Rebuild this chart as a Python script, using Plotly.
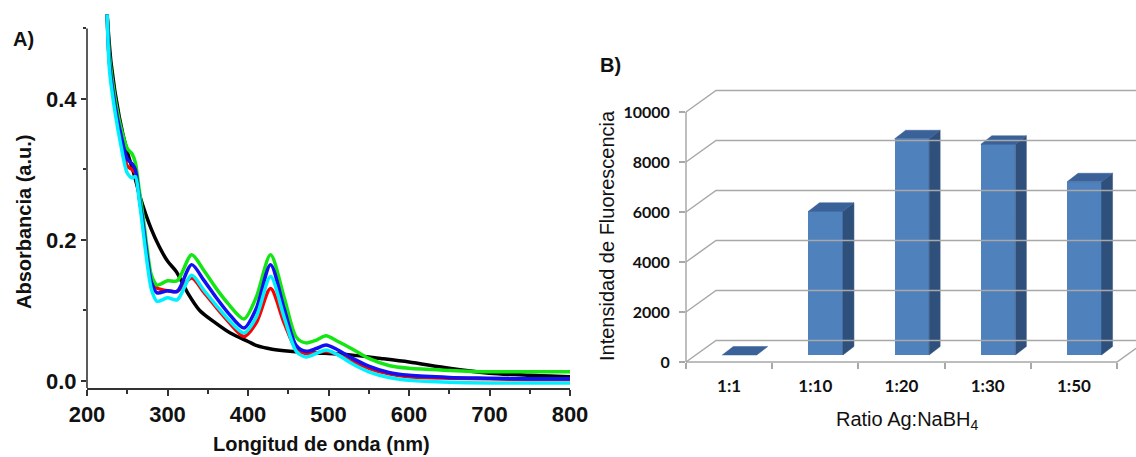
import plotly.graph_objects as go

# ---------------- Panel A data (UV-Vis spectra) ----------------
wl = [225, 228, 235, 242, 250, 256, 260, 265, 270, 275, 280, 287, 300, 312, 330, 345, 360, 375,
      395, 410, 428, 445, 460, 472, 485, 497, 510, 530, 550, 575, 600, 650, 700, 750, 800]
abs_green = [0.52, 0.46, 0.40, 0.36, 0.33, 0.322, 0.31, 0.27, 0.23, 0.185, 0.15, 0.136, 0.142, 0.142,
             0.179, 0.157, 0.132, 0.110, 0.088, 0.118, 0.179, 0.118, 0.062, 0.054, 0.058, 0.064, 0.057,
             0.045, 0.032, 0.022, 0.018, 0.015, 0.013, 0.013, 0.013]
abs_blue = [0.52, 0.45, 0.39, 0.35, 0.315, 0.308, 0.30, 0.26, 0.22, 0.175, 0.14, 0.125, 0.128, 0.127,
            0.165, 0.143, 0.119, 0.097, 0.075, 0.102, 0.165, 0.102, 0.050, 0.042, 0.046, 0.051, 0.045,
            0.032, 0.021, 0.012, 0.008, 0.005, 0.004, 0.003, 0.003]
abs_red = [0.52, 0.45, 0.39, 0.345, 0.305, 0.300, 0.295, 0.26, 0.22, 0.175, 0.14, 0.132, 0.128, 0.127,
           0.146, 0.126, 0.105, 0.085, 0.063, 0.082, 0.131, 0.082, 0.045, 0.039, 0.040, 0.042, 0.038,
           0.028, 0.018, 0.010, 0.006, 0.004, 0.003, 0.002, 0.002]
abs_cyan = [0.52, 0.44, 0.38, 0.335, 0.295, 0.288, 0.29, 0.255, 0.21, 0.165, 0.13, 0.113, 0.118, 0.115,
            0.150, 0.129, 0.108, 0.088, 0.068, 0.090, 0.148, 0.090, 0.042, 0.034, 0.039, 0.044, 0.038,
            0.024, 0.013, 0.005, 0.001, -0.002, -0.003, -0.003, -0.003]
wl_black = [225, 230, 240, 250, 258, 266, 280, 290, 300, 311, 325, 340, 360, 378, 400, 411, 430, 452,
            480, 527, 565, 600, 650, 700, 750, 800]
abs_black = [0.52, 0.45, 0.375, 0.325, 0.295, 0.261, 0.215, 0.19, 0.17, 0.155, 0.125, 0.100, 0.082,
             0.068, 0.056, 0.050, 0.045, 0.042, 0.040, 0.037, 0.032, 0.027, 0.018, 0.011, 0.008, 0.006]

# ---------------- Panel B data (fluorescence) ----------------
ratios = ["1:1", "1:10", "1:20", "1:30", "1:50"]
intensity = [0, 5750, 8650, 8430, 6930]
b_ticks = [0, 2000, 4000, 6000, 8000, 10000]
b_ticktext = ["0", "2000", "4000", "6000", "8000", "10000"]

W, H = 1136, 457
fig = go.Figure()

# ---------- Panel A ----------
XA_DOM = [87 / W, 570 / W]
YA_DOM = [1 - 388 / H, 1 - 14 / H]
XA_RANGE = [200, 800]
YA_RANGE = [-0.01, -0.01 + (388 - 14) / 705.0]

series = [
    (wl_black, abs_black, "#000000"),
    (wl, abs_red, "#ff0000"),
    (wl, abs_green, "#14e614"),
    (wl, abs_blue, "#1010f0"),
    (wl, abs_cyan, "#00f0ff"),
]
for xs, ys, col in series:
    fig.add_trace(go.Scatter(x=xs, y=ys, mode="lines", line=dict(color=col, width=3.5, shape="spline", smoothing=0.8),
                             xaxis="x", yaxis="y", showlegend=False, hoverinfo="skip"))

tickfontA = dict(family="Liberation Sans, Arial, sans-serif", size=22, color="#111111", weight="bold")

# ---------- Panel B ----------
XB_DOM = [686 / W, 1.0]
YB_DOM = [1 - 362 / H, 1 - 60 / H]
PX_PER_CAT = 86.2
XB_RANGE = [-0.5, -0.5 + (W - 686) / PX_PER_CAT]
UNITS_PER_PX = 40.0
YB_RANGE = [0, (362 - 60) * UNITS_PER_PX]

OFF = 10.4 / PX_PER_CAT      # bar depth shift (x)
BASE = 7 * UNITS_PER_PX      # bar depth shift (y)
BW = 34.5 / PX_PER_CAT       # bar width
SDX = 11 / PX_PER_CAT        # 3D side depth (x)
SDY = 8.5 * UNITS_PER_PX     # 3D side depth (y)
GDX = 30 / PX_PER_CAT        # wall depth (x)
GDY = 21.5 * UNITS_PER_PX    # wall depth (y)

idx = list(range(len(ratios)))
fig.add_trace(go.Bar(x=[i + OFF for i in idx], y=intensity, base=BASE, width=BW,
                     marker=dict(color="#4F81BD", line=dict(width=0)),
                     xaxis="x2", yaxis="y2", showlegend=False, hoverinfo="skip"))

side_x, side_y, top_x, top_y = [], [], [], []
for i, v in zip(idx, intensity):
    l = i + OFF - BW / 2
    r = i + OFF + BW / 2
    t = BASE + v
    if v > 0:
        side_x += [r, r + SDX, r + SDX, r, r, None]
        side_y += [BASE, BASE + SDY, t + SDY, t, BASE, None]
    top_x += [l, l + SDX, r + SDX, r, l, None]
    top_y += [t, t + SDY, t + SDY, t, t, None]

fig.add_trace(go.Scatter(x=side_x, y=side_y, fill="toself", fillcolor="#30507C", mode="lines",
                         line=dict(width=0.5, color="#30507C"), xaxis="x2", yaxis="y2",
                         showlegend=False, hoverinfo="skip"))
fig.add_trace(go.Scatter(x=top_x, y=top_y, fill="toself", fillcolor="#3B6298", mode="lines",
                         line=dict(width=0.5, color="#3B6298"), xaxis="x2", yaxis="y2",
                         showlegend=False, hoverinfo="skip"))


def bpx(x):
    return XB_DOM[0] + (x - XB_RANGE[0]) / (XB_RANGE[1] - XB_RANGE[0]) * (XB_DOM[1] - XB_DOM[0])


def bpy(y):
    return YB_DOM[0] + (y - YB_RANGE[0]) / (YB_RANGE[1] - YB_RANGE[0]) * (YB_DOM[1] - YB_DOM[0])


def apy(y):
    return YA_DOM[0] + (y - YA_RANGE[0]) / (YA_RANGE[1] - YA_RANGE[0]) * (YA_DOM[1] - YA_DOM[0])


shapes = []
GRID = "#a8a8a8"
# panel A y-axis line (only to 0.5)
shapes.append(dict(type="line", xref="paper", yref="paper", x0=XA_DOM[0], x1=XA_DOM[0],
                   y0=apy(YA_RANGE[0]), y1=apy(0.5), line=dict(color="#333333", width=1.6)))
# panel B walls / gridlines
x0 = XB_RANGE[0]
for v in b_ticks:
    path = "M {:.5f},{:.5f} L {:.5f},{:.5f} L {:.5f},{:.5f}".format(
        bpx(x0), bpy(v), bpx(x0 + GDX), bpy(v + GDY), bpx(8), bpy(v + GDY))
    shapes.append(dict(type="path", xref="paper", yref="paper", path=path, line=dict(color=GRID, width=1.5)))
shapes.append(dict(type="line", xref="paper", yref="paper", x0=bpx(x0), x1=bpx(x0), y0=bpy(0), y1=bpy(10000),
                   line=dict(color=GRID, width=1.5)))
nb = len(ratios) - 0.5
path = "M {:.5f},{:.5f} L {:.5f},{:.5f} L {:.5f},{:.5f}".format(
    bpx(x0), bpy(0), bpx(nb), bpy(0), bpx(nb + GDX), bpy(GDY))
shapes.append(dict(type="path", xref="paper", yref="paper", path=path, line=dict(color=GRID, width=1.5)))

tickfontB = dict(family="Lato, Carlito, sans-serif", size=16, color="#111111", weight="bold")
tickfontBx = dict(family="Lato, Carlito, sans-serif", size=17, color="#111111", weight="bold")

fig.update_layout(
    width=W, height=H,
    margin=dict(l=0, r=0, t=0, b=0, autoexpand=False),
    paper_bgcolor="white", plot_bgcolor="rgba(0,0,0,0)",
    showlegend=False,
    bargap=0,
    shapes=shapes,
    xaxis=dict(domain=XA_DOM, range=XA_RANGE, tickvals=[200, 300, 400, 500, 600, 700, 800],
               ticks="outside", ticklen=6, tickwidth=1.5, tickcolor="#333333",
               minor=dict(dtick=50, tick0=200, ticks="outside", ticklen=4, tickwidth=1.5, tickcolor="#333333"),
               showline=True, linecolor="#333333", linewidth=1.6, showgrid=False, zeroline=False,
               tickfont=tickfontA, anchor="y", automargin=False),
    yaxis=dict(domain=YA_DOM, range=YA_RANGE, tickvals=[0, 0.2, 0.4], ticktext=["0.0", "0.2", "0.4"],
               ticks="outside", ticklen=5, tickwidth=1.5, tickcolor="#333333",
               minor=dict(dtick=0.1, tick0=0, ticks="outside", ticklen=3, tickwidth=1.5, tickcolor="#333333"),
               showline=False, showgrid=False, zeroline=False, tickfont=tickfontA, anchor="x",
               automargin=False),
    xaxis2=dict(domain=XB_DOM, range=XB_RANGE, tickvals=idx, ticktext=ratios, ticks="",
                minor=dict(tick0=-0.5, dtick=1, ticks="outside", ticklen=6, tickwidth=1.5, tickcolor=GRID),
                showline=False, showgrid=False, zeroline=False, tickfont=tickfontBx, anchor="y2",
                ticklabelstandoff=12, automargin=False),
    yaxis2=dict(domain=YB_DOM, range=YB_RANGE, tickvals=b_ticks, ticktext=b_ticktext, ticks="outside",
                ticklen=6, tickwidth=1.5, tickcolor=GRID, showline=False, showgrid=False, zeroline=False,
                tickfont=tickfontB, anchor="x2", ticklabelstandoff=6, automargin=False),
)

titlefont = dict(family="Liberation Sans, Arial, sans-serif", size=20, color="#111111", weight="bold")
titlefontB = dict(family="Liberation Sans, Arial, sans-serif", size=20, color="#111111")


def ann(text, px, py, font, angle=0):
    return dict(text=text, x=px / W, y=1 - py / H, xref="paper", yref="paper", showarrow=False,
                xanchor="center", yanchor="middle", font=font, textangle=angle)


fig.update_layout(annotations=[
    ann("A)", 23, 39, titlefont),
    ann("B)", 610, 65, titlefont),
    ann("Absorbancia (a.u.)", 24, 222, titlefont, -90),
    ann("Longitud de onda (nm)", 321, 444, titlefont),
    ann("Intensidad de Fluorescencia", 607, 236, titlefontB, -90),
    ann("Ratio Ag:NaBH<sub>4</sub>", 907, 420, titlefontB),
])

fig.write_html("out.html", config={"displayModeBar": False},
               post_script="document.body.style.margin='0';document.body.style.overflow='hidden';")
